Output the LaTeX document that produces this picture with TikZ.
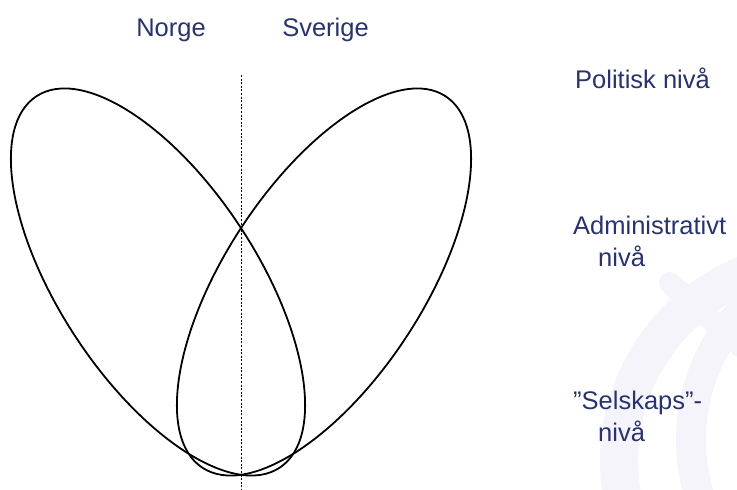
\documentclass[tikz,border=0pt]{standalone}
\usepackage{fontspec}
\setmainfont{Liberation Sans}
\usetikzlibrary{shapes.geometric}
\definecolor{labelblue}{RGB}{40,50,110}
\definecolor{wmark}{RGB}{245,244,250}
\begin{document}
\begin{tikzpicture}[x=1pt,y=1pt,
  lbl/.style={text=labelblue,inner sep=0pt,font=\fontsize{25.5}{32.5}\selectfont},
  loop/.style={draw=black,ellipse,line width=1.8pt,minimum width=444pt,minimum height=198pt,inner sep=0pt,outer sep=0pt},
  wm/.style={draw=wmark}]
\useasboundingbox (0,0) rectangle (737,490);
% faint watermark
\begin{scope}
\clip (0,0) rectangle (737,490);
\draw[wm,line width=38pt] (820,29) circle[radius=201pt];
\draw[wm,line width=30pt] (880,50) circle[radius=189pt];
\draw[wm,line width=22pt,line cap=round] (670,207) -- (790,100);
\end{scope}
% the two loops
\node[loop,rotate=-56.8] (norgeloop) at (158,208) {};
\node[loop,rotate=56.8] (sverigeloop) at (324,208) {};
% border line
\coordinate (bordertop) at (241,415);
\coordinate (borderbottom) at (241,0);
\draw[line width=0.6pt,dash pattern=on 2pt off 1.6pt] (bordertop) -- (borderbottom);
% labels
\node[lbl,anchor=base] (norge) at (171,453) {Norge};
\node[lbl,anchor=base] (sverige) at (325.5,453) {Sverige};
\node[lbl,anchor=base west] (politisk) at (575,401) {Politisk nivå};
\node[lbl,anchor=base west,align=left] (admin) at (573,223) {Administrativt\\\hspace*{25pt}nivå};
\node[lbl,anchor=base west,align=left] (selskap) at (573,48) {”Selskaps”-\\\hspace*{25pt}nivå};
\end{tikzpicture}
\end{document}
